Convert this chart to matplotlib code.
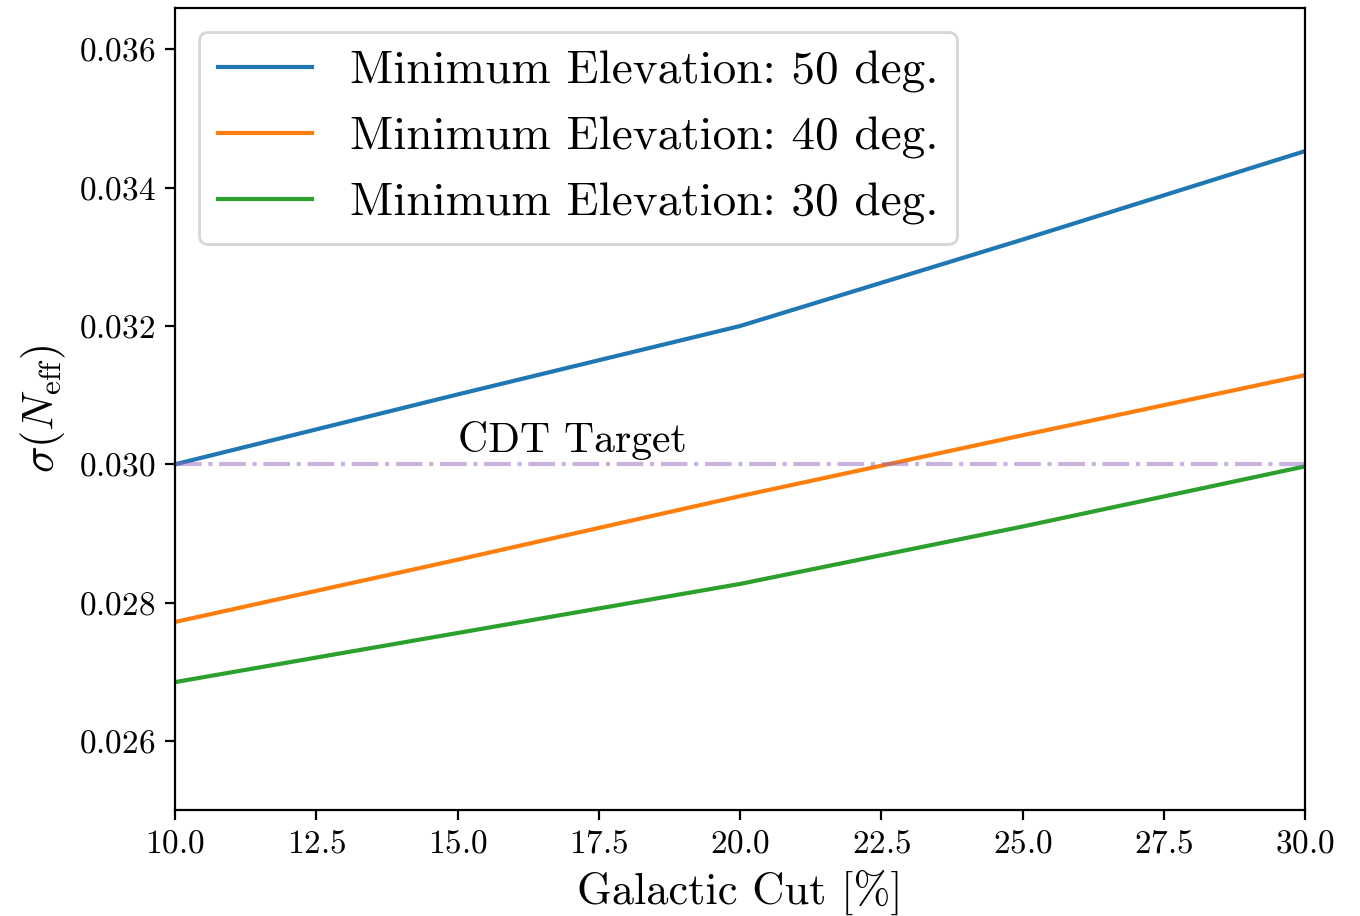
import numpy as np
import matplotlib
matplotlib.use("Agg")
import matplotlib.pyplot as plt

plt.rcParams['font.family'] = 'serif'
plt.rcParams['font.serif'] = ['cmr10']
plt.rcParams['mathtext.fontset'] = 'cm'
plt.rcParams['axes.formatter.use_mathtext'] = True

# galactic cut [%] and sigma(N_eff) for each minimum elevation
galactic_cut = [10.0, 15.0, 20.0, 25.0, 30.0]
sigma_el50 = [0.03000, 0.03101, 0.03200, 0.03325, 0.03453]
sigma_el40 = [0.02772, 0.02862, 0.02954, 0.03042, 0.03129]
sigma_el30 = [0.02685, 0.02756, 0.02827, 0.02910, 0.02997]
elevations = [50, 40, 30]
cdt_target = 0.030

fig, ax = plt.subplots(figsize=(6.8, 4.58), dpi=200)
fig.subplots_adjust(left=0.1287, right=0.9596, top=0.9913, bottom=0.1157)

for el, sig in zip(elevations, [sigma_el50, sigma_el40, sigma_el30]):
    ax.plot(galactic_cut, sig, label=f'Minimum Elevation: {el} deg.')

ax.axhline(cdt_target, color='C4', alpha=0.5, linestyle='-.')
ax.text(15.0, cdt_target + 0.00018, 'CDT Target', fontsize=15)

ax.set_xlim(10, 30)
ax.set_ylim(0.025, 0.0366)
ax.set_yticks([0.026, 0.028, 0.030, 0.032, 0.034, 0.036])
ax.tick_params(labelsize=12)
ax.set_xlabel('Galactic Cut [%]', fontsize=16)
ax.set_ylabel(r'$\sigma(N_{\rm eff})$', fontsize=16)
ax.legend(loc='upper left', fontsize=17)

fig.savefig('out.png', dpi=200)
